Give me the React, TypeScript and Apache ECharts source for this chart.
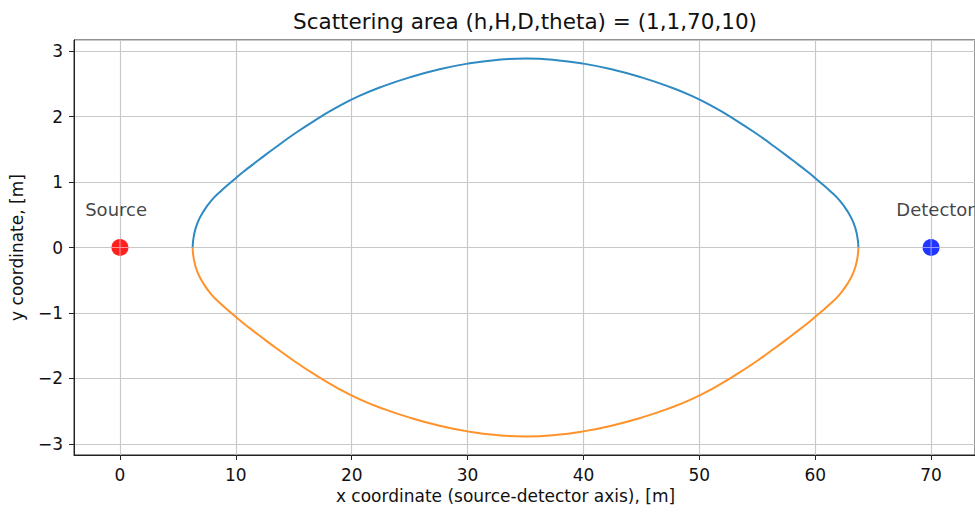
import React, { useEffect, useRef } from "react";
import * as echarts from "echarts";

// Curve boundary (x in m)
const curveX = [
  6.27, 6.4, 6.7, 7.2, 7.9, 8.7, 9.6, 10.6, 12, 13.5, 15, 16.8, 18.7, 20.7, 22.8, 25, 27.5, 30,
  32.5, 35, 37.5, 40, 42.5, 45, 47.2, 49.3, 51.3, 53.2, 55, 56.5, 58, 59.4, 60.4, 61.3, 62.1,
  62.8, 63.3, 63.6, 63.73,
];
const upperY = [
  0, 0.2, 0.38, 0.55, 0.72, 0.86, 1.0, 1.15, 1.34, 1.54, 1.73, 1.94, 2.14, 2.32, 2.47, 2.6, 2.72, 2.81,
  2.867, 2.887, 2.867, 2.81, 2.72, 2.6, 2.47, 2.32, 2.14, 1.94, 1.73, 1.54, 1.34, 1.15, 1.0, 0.86, 0.72,
  0.55, 0.38, 0.2, 0,
];
const lowerY = [
  0, -0.2, -0.38, -0.55, -0.72, -0.86, -1.0, -1.15, -1.34, -1.54, -1.73, -1.94, -2.14, -2.32, -2.47, -2.6, -2.72, -2.81,
  -2.867, -2.887, -2.867, -2.81, -2.72, -2.6, -2.47, -2.32, -2.14, -1.94, -1.73, -1.54, -1.34, -1.15, -1.0, -0.86, -0.72,
  -0.55, -0.38, -0.2, 0,
];

const markerNames = ["Source", "Detector"];
const markerX = [0, 70];
const markerY = [0, 0];
const markerColors = ["#ff2020", "#2035ff"];
const labelX = [-3, 67];
const labelY = [0.5, 0.5];

const titleText = "Scattering area (h,H,D,theta) = (1,1,70,10)";
const xName = "x coordinate (source-detector axis), [m]";
const yName = "y coordinate, [m]";

const FONT = "DejaVu Sans";

export default function App() {
  const ref = useRef<HTMLDivElement>(null);
  useEffect(() => {
    if (!ref.current) return;
    const chart = echarts.init(ref.current, null, { renderer: "svg" });
    const fmt = (v: number) => (v < 0 ? "\u2212" + Math.abs(v) : String(v));
    chart.setOption({
      animation: false,
      backgroundColor: "#ffffff",
      title: {
        text: titleText,
        left: 288,
        top: 5,
        textStyle: { fontFamily: FONT, fontSize: 21.5, fontWeight: "normal", color: "#111" },
      },
      grid: {
        left: 74,
        top: 40,
        width: 902,
        height: 415,
        show: true,
        borderColor: "#222",
        borderWidth: 1,
        backgroundColor: "transparent",
      },
      xAxis: {
        type: "value",
        min: -3.966,
        max: 73.79,
        minInterval: 10,
        maxInterval: 10,
        name: xName,
        nameLocation: "middle",
        nameGap: 32,
        nameTextStyle: { fontFamily: FONT, fontSize: 17, color: "#111", padding: [0, 38, 0, 0] },
        axisLine: { show: true, onZero: false, lineStyle: { color: "#222", width: 1 } },
        axisTick: { show: true, length: 5, lineStyle: { color: "#222" } },
        axisLabel: {
          margin: 11,
          fontFamily: FONT,
          fontSize: 17,
          color: "#111",
          showMinLabel: false,
          showMaxLabel: false,
          formatter: fmt,
        },
        splitLine: { show: true, lineStyle: { color: "#c8c8c8", width: 1.2 } },
      },
      yAxis: {
        type: "value",
        min: -3.171,
        max: 3.171,
        minInterval: 1,
        maxInterval: 1,
        name: yName,
        nameLocation: "middle",
        nameGap: 49,
        nameRotate: 90,
        nameTextStyle: { fontFamily: FONT, fontSize: 17, color: "#111" },
        axisLine: { show: true, onZero: false, lineStyle: { color: "#222", width: 1 } },
        axisTick: { show: true, length: 5, lineStyle: { color: "#222" } },
        axisLabel: {
          margin: 11,
          fontFamily: FONT,
          fontSize: 17,
          color: "#111",
          showMinLabel: false,
          showMaxLabel: false,
          formatter: fmt,
        },
        splitLine: { show: true, lineStyle: { color: "#c8c8c8", width: 1.2 } },
      },
      series: [
        {
          type: "line",
          name: "upper",
          data: curveX.map((x, i) => [x, upperY[i]]),
          showSymbol: false,
          smooth: 0.5,
          lineStyle: { color: "#2e8ac2", width: 2 },
          itemStyle: { color: "#2e8ac2" },
          z: 3,
        },
        {
          type: "line",
          name: "lower",
          data: curveX.map((x, i) => [x, lowerY[i]]),
          showSymbol: false,
          smooth: 0.5,
          lineStyle: { color: "#ff922a", width: 2 },
          itemStyle: { color: "#ff922a" },
          z: 4,
        },
        {
          type: "scatter",
          name: "points",
          symbolSize: 17,
          data: markerX.map((x, i) => ({
            name: markerNames[i],
            value: [x, markerY[i]],
            itemStyle: { color: markerColors[i], opacity: 1 },
          })),
          z: 5,
        },
        {
          type: "scatter",
          name: "gridOverMarkers",
          symbol: "path://M0,8.4h18v1.2h-18z M8.4,0h1.2v18h-1.2z",
          symbolSize: 17,
          silent: true,
          itemStyle: { color: "rgba(255,255,255,0.5)", opacity: 1 },
          data: markerX.map((x, i) => [x, markerY[i]]),
          z: 6,
        },
        {
          type: "scatter",
          name: "labels",
          symbolSize: 0,
          silent: true,
          data: labelX.map((x, i) => ({ name: markerNames[i], value: [x, labelY[i]] })),
          label: {
            show: true,
            position: [0, 0],
            align: "left",
            verticalAlign: "bottom",
            offset: [0, 4],
            formatter: (p: any) => p.name,
            fontFamily: FONT,
            fontSize: 18,
            color: "#111",
          },
          z: 6,
        },
      ],
    });
    return () => chart.dispose();
  }, []);
  return (
    <div
      ref={ref}
      style={{ position: "fixed", left: 0, top: 0, width: 975, height: 513, background: "#fff" }}
    />
  );
}
